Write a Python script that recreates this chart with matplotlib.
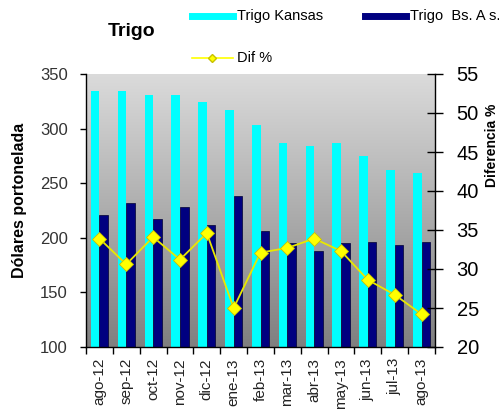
import numpy as np
import matplotlib
matplotlib.use("Agg")
import matplotlib.pyplot as plt
from matplotlib.lines import Line2D

plt.rcParams['font.family'] = ['Liberation Sans', 'DejaVu Sans']

months = ["ago-12", "sep-12", "oct-12", "nov-12", "dic-12", "ene-13", "feb-13",
          "mar-13", "abr-13", "may-13", "jun-13", "jul-13", "ago-13"]
kansas = [334, 334, 331, 331, 324, 317, 303, 287, 284, 287, 275, 262, 259]
bsas = [221, 232, 217, 228, 212, 238, 206, 195, 188, 195, 196, 193, 196]
dif = [33.9, 30.6, 34.1, 31.2, 34.6, 25.0, 32.1, 32.7, 33.9, 32.3, 28.6, 26.7, 24.2]
left_ticks = [100, 150, 200, 250, 300, 350]
right_ticks = [20, 25, 30, 35, 40, 45, 50, 55]

fig = plt.figure(figsize=(4.99, 4.12), dpi=100)
ax = fig.add_axes([86/499, 1-347/412, (435-86)/499, (347-74)/412])

n = len(months)
x = np.arange(n)
ax.set_xlim(-0.5, n-0.5)
ax.set_ylim(100, 350)

# gradient background
grad = np.linspace(0, 1, 256).reshape(-1, 1)
top = np.array([0.86, 0.86, 0.86])
bot = np.array([0.50, 0.50, 0.50])
img = top[None, None, :] * (1-grad[:, :, None]) + bot[None, None, :] * grad[:, :, None]
ax.imshow(img, extent=[0, 1, 0, 1], transform=ax.transAxes, aspect='auto', zorder=0)

w = 0.32
ax.bar(x - w/2, [k-100 for k in kansas], width=w, bottom=100, color='#00ffff', zorder=2)
ax.bar(x + w/2, [b-100 for b in bsas], width=w, bottom=100, color='#000080',
       edgecolor='#000033', linewidth=0.5, zorder=2)

ax.set_yticks(left_ticks)
ax.set_xticks(np.arange(-0.5, n, 1.0))
ax.set_xticklabels([])
ax.set_xticks(x, minor=True)
ax.set_xticklabels(months, minor=True, rotation=90, fontsize=11, color='#222222')
ax.tick_params(axis='x', which='major', direction='out', length=5, width=1)
ax.tick_params(axis='x', which='minor', length=0, pad=8)
ax.tick_params(axis='y', direction='out', length=4, width=1, labelsize=12,
               labelcolor='#333333', pad=9)
ax.spines['top'].set_visible(False)
ax.spines['right'].set_visible(False)
for s in ['left', 'bottom']:
    ax.spines[s].set_linewidth(1.0)

fig.text(20/499, 1-200/412, "Dólares portonelada", rotation=90, fontsize=11.5,
         fontweight='bold', ha='center', va='center')

ax2 = ax.twinx()
ax2.set_ylim(20, 55)
ax2.set_yticks(right_ticks)
ax2.tick_params(axis='y', direction='inout', length=11, width=1, labelsize=14.5, pad=10)
ax2.spines['top'].set_visible(False)
ax2.spines['left'].set_visible(False)
ax2.spines['bottom'].set_visible(False)
ax2.spines['right'].set_linewidth(1.0)
ax2.plot(x, dif, color='#e8e800', linewidth=1.3, marker='D', markersize=7,
         markerfacecolor='#ffff00', markeredgecolor='#c8c000', markeredgewidth=0.6, zorder=5)

fig.text(485/499, 1-145/412, "Diferencia %", rotation=90, fontsize=10,
         fontweight='bold', ha='left', va='center')

# title and legend
fig.text(132/499, 1-32/412, "Trigo", fontsize=14, fontweight='bold', ha='center', va='center')
fig.add_artist(Line2D([192/499, 233/499], [1-16/412]*2, color='#00ffff', linewidth=5,
                      transform=fig.transFigure))
fig.text(237/499, 1-16/412, "Trigo Kansas", fontsize=10.5, va='center')
fig.add_artist(Line2D([365/499, 406/499], [1-16/412]*2, color='#000080', linewidth=5,
                      transform=fig.transFigure))
fig.text(410/499, 1-16/412, "Trigo  Bs. A s.", fontsize=10.5, va='center')
fig.add_artist(Line2D([192/499, 233/499], [1-58/412]*2, color='#ffff00', linewidth=1.2,
                      transform=fig.transFigure))
fig.add_artist(Line2D([212/499], [1-58/412], color='#ffff00', marker='D', markersize=4,
                      markeredgecolor='#c8c000', transform=fig.transFigure))
fig.text(237/499, 1-58/412, "Dif %", fontsize=10.5, va='center')

fig.savefig("out.png", dpi=100)
